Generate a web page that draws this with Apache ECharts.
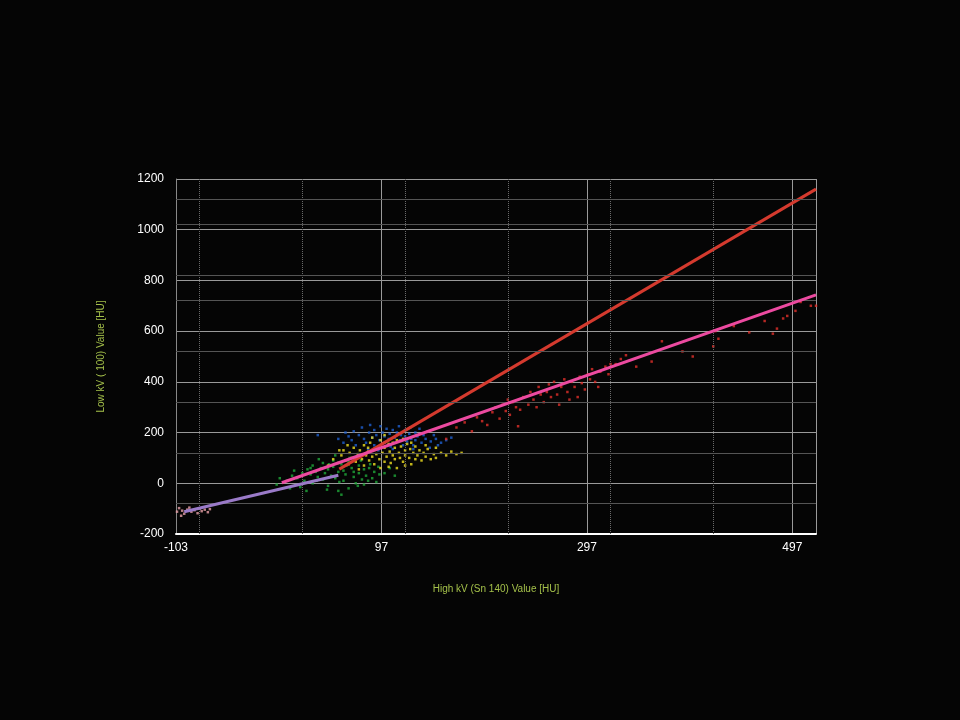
<!DOCTYPE html>
<html><head><meta charset="utf-8">
<script src="https://cdn.jsdelivr.net/npm/echarts@6/dist/echarts.min.js"></script>
<style>html,body{margin:0;background:#050505}#c{width:960px;height:720px}</style>
</head><body><div id="c"></div>
<script>
const xTicks=[-103,97,297,497];
const minorX=[-80,20,120,220,320,420];
const minorY=[-80,120,320,520,720,820,1020,1120];
const redLine=[[56,56],[520,1160]];
const pinkLine=[[0,2],[520,743]];
const purpleLine=[[-95,-112],[55,32]];
const pinkPts=[[-112,-105],[-108,-110],[-105,-100],[-102,-112],[-100,-98],[-97,-108],[-95,-120],[-92,-104],[-90,-96],[-88,-112],[-85,-106],[-82,-118],[-80,-100],[-78,-110],[-75,-104],[-72,-114],[-70,-102],[-98,-128],[-110,-96]];
const greenPts=[[-5,-5],[5,10],[10,30],[15,20],[20,40],[22,10],[25,55],[28,35],[30,0],[30,70],[33,45],[35,25],[38,60],[40,15],[40,80],[42,40],[45,-10],[45,55],[48,30],[50,90],[50,65],[52,20],[55,45],[55,-30],[58,75],[60,10],[60,50],[62,35],[65,85],[65,-20],[68,60],[70,25],[70,45],[72,0],[75,70],[75,40],[78,15],[80,55],[80,-5],[82,30],[85,60],[88,20],[90,45],[92,5],[95,35],[18,-15],[12,50],[8,-20],[36,95],[44,-25],[58,-45],[66,100],[74,-10],[86,75],[100,40],[105,60],[110,30],[52,110],[-2,20],[24,-30],[28,60],[34,10],[46,75],[56,5],[63,70],[77,90],[84,10],[94,65]];
const yellowPts=[[45,70],[50,95],[55,80],[58,110],[60,130],[62,90],[65,75],[66,120],[68,100],[70,140],[72,85],[74,115],[76,130],[78,95],[80,150],[80,70],[82,110],[84,125],[85,90],[86,160],[88,105],[90,135],[90,75],[92,115],[94,145],[95,95],[96,170],[98,120],[100,85],[100,140],[102,105],[104,155],[105,125],[106,80],[108,110],[110,140],[110,95],[112,170],[114,120],[115,100],[116,145],[118,85],[120,130],[120,110],[122,155],[124,100],[125,135],[126,75],[128,120],[130,145],[130,95],[132,110],[134,130],[136,90],[138,120],[140,105],[142,135],[145,95],[148,115],[150,100],[155,120],[160,110],[165,125],[170,115],[175,120],[88,180],[96,60],[104,65],[112,60],[120,70],[75,55],[64,150],[140,150],[150,140],[100,190],[118,175],[56,130],[84,140],[108,160],[126,160]];
const bluePts=[[35,190],[55,175],[60,160],[62,200],[65,185],[68,170],[70,205],[72,150],[75,190],[78,220],[80,175],[82,160],[85,200],[86,230],[88,180],[90,150],[90,210],[92,190],[95,170],[96,225],[98,200],[100,160],[100,185],[102,215],[104,175],[105,195],[106,145],[108,210],[110,180],[110,160],[112,200],[114,225],[115,170],[116,190],[118,150],[120,210],[120,185],[122,165],[124,195],[125,220],[126,175],[128,150],[130,200],[130,170],[132,185],[134,215],[136,160],[138,190],[140,175],[142,205],[145,165],[148,190],[150,175],[155,160],[160,170],[165,180],[94,130],[84,135],[108,135],[128,135],[144,140],[152,150]];
const redPts=[[160,175],[170,220],[178,240],[185,205],[190,260],[195,245],[200,230],[205,280],[208,300],[212,255],[215,310],[218,285],[220,330],[222,270],[225,320],[228,300],[230,225],[232,290],[235,340],[240,310],[242,360],[245,330],[248,300],[250,380],[252,350],[255,320],[258,360],[260,390],[262,340],[265,400],[268,350],[270,310],[272,380],[275,410],[278,360],[280,330],[282,400],[285,380],[288,340],[290,420],[292,395],[295,370],[298,430],[300,410],[302,450],[305,400],[308,380],[310,440],[315,460],[318,430],[320,470],[325,470],[330,490],[335,505],[345,460],[360,480],[370,560],[390,520],[400,500],[420,540],[422,600],[425,570],[440,620],[455,595],[470,640],[478,590],[482,610],[488,650],[492,660],[500,680],[505,715],[515,700],[520,700]];

const chart=echarts.init(document.getElementById('c'));
const dot=(d,c,n)=>({type:'scatter',name:n,data:d,symbol:'rect',symbolSize:2.5,itemStyle:{color:c},z:3});
chart.setOption({
 backgroundColor:'#050505',animation:false,
 grid:{left:176,right:144,top:179,bottom:186},
 xAxis:{type:'value',min:-103,max:520,interval:200,
  name:'High kV (Sn 140) Value [HU]',nameLocation:'middle',nameGap:50,
  nameTextStyle:{color:'#a4c04a',fontSize:10,fontFamily:'Arial'},
  axisLine:{onZero:false,lineStyle:{color:'#ffffff',width:2}},axisTick:{show:false},
  axisLabel:{color:'#fff',fontSize:12,fontFamily:'Arial',customValues:xTicks},
  splitLine:{lineStyle:{color:'#9a9a9a',width:1}}},
 yAxis:{type:'value',min:-200,max:1200,interval:200,
  name:'Low kV ( 100) Value [HU]',nameLocation:'middle',nameGap:70,
  nameTextStyle:{color:'#a4c04a',fontSize:10,fontFamily:'Arial'},
  axisLine:{onZero:false,lineStyle:{color:'#888',width:1}},axisTick:{show:false},
  axisLabel:{color:'#fff',fontSize:12,fontFamily:'Arial',margin:12,formatter:v=>String(v)},
  splitLine:{lineStyle:{color:'#9a9a9a',width:1}}},
 series:[
  {type:'line',data:[],silent:true,markLine:{symbol:'none',silent:true,label:{show:false},
    lineStyle:{color:'#6a6a6a',type:'dotted',width:1},
    data:minorX.map(v=>({xAxis:v}))}},
  {type:'line',data:[],silent:true,markLine:{symbol:'none',silent:true,label:{show:false},
    lineStyle:{color:'#555',type:'solid',width:1},
    data:minorY.map(v=>({yAxis:v}))}},
  dot(pinkPts,'#e8a0a8','pink'),
  dot(greenPts,'#1fa83a','green'),
  dot(bluePts,'#1e5fd0','blue'),
  dot(yellowPts,'#f0e020','yellow'),
  dot(redPts,'#e0302a','red'),
  {type:'line',data:redLine,symbol:'none',lineStyle:{color:'#d43a2e',width:3},z:4},
  {type:'line',data:pinkLine,symbol:'none',lineStyle:{color:'#ec4aa0',width:3},z:5},
  {type:'line',data:purpleLine,symbol:'none',lineStyle:{color:'#9a7ac8',width:3},z:5}
 ]
});
</script></body></html>
